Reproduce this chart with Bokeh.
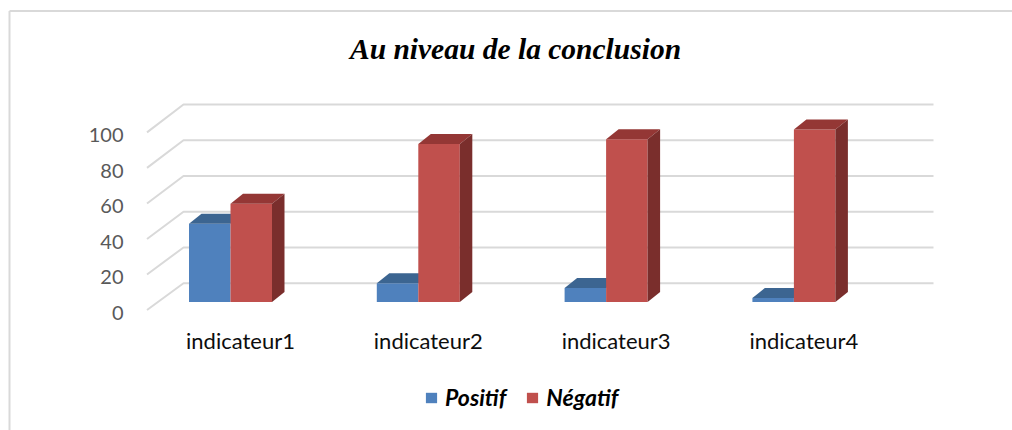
from bokeh.plotting import figure
from bokeh.models import Range1d, ColumnDataSource, Legend, LegendItem
from bokeh.core.properties import value
from bokeh.embed import file_html
from bokeh.resources import INLINE

# ---- data ----
categories = ["indicateur1", "indicateur2", "indicateur3", "indicateur4"]
positif = [44.3, 10.6, 7.9, 2.3]
negatif = [55.7, 89.4, 92.1, 97.7]
y_ticks = [0, 20, 40, 60, 80, 100]
series_names = ["Positif", "Négatif"]
title_text = "Au niveau de la conclusion"

# ---- layout helpers (canvas pixel -> data) ----
XS, X0P = 187.8, 230.0     # px per category, px of category 0
YS, Y0P = 1.766, 301.5     # px per unit, px of value 0 (front plane)
def X(px):
    return (px - X0P) / XS
def Y(py):
    return (Y0P - py) / YS

W, H = 1012, 430
p = figure(width=W, height=H, output_backend="svg", toolbar_location=None,
           x_range=Range1d(X(0), X(W)), y_range=Range1d(Y(H), Y(0)),
           min_border=0)
p.axis.visible = False
p.grid.visible = False
p.outline_line_color = None
p.background_fill_color = "white"

GRID = "#d9d9d9"
# outer chart border (left & top visible)
p.segment(x0=[X(9), X(9)], y0=[Y(10.5), Y(10.5)], x1=[X(1012), X(9)], y1=[Y(10.5), Y(430)],
          line_color=GRID, line_width=2)

# back wall gridlines + left wall diagonals
xs, ys = [], []
for g in y_ticks:
    yb = Y(282.7 - g * 1.787)
    yf = Y(309.5 - g * 1.776)
    xs.append([X(146.5), X(183), X(933)])
    ys.append([yf, yb, yb])
p.multi_line(xs=xs, ys=ys, line_color=GRID, line_width=2)

# y tick labels
p.text(x=[X(123)] * len(y_ticks), y=[Y(312.5 - g * 1.78) for g in y_ticks],
       text=[str(g) for g in y_ticks], text_align="right", text_baseline="middle",
       text_font=value("Lato"), text_font_size="20px", text_color="#595959")

# category labels
idx = list(range(len(categories)))
p.text(x=[i + 10 / XS for i in idx], y=[Y(340)] * len(idx), text=categories,
       text_align="center", text_baseline="middle",
       text_font=value("Lato"), text_font_size="22px", text_color="#0d0d0d")

# ---- bars (3D look) ----
w = 41.5 / XS
ddx = 12.5 / XS
ddy = 10 / YS

src_b = ColumnDataSource(dict(left=[i - w for i in idx], right=idx, top=positif, bottom=[0] * 4))
src_r = ColumnDataSource(dict(left=idx, right=[i + w for i in idx], top=negatif, bottom=[0] * 4))

rb = p.quad(source=src_b, left="left", right="right", top="top", bottom="bottom",
            fill_color="#4f81bd", line_color=None)
p.patches(xs=[[i - w, i - w + ddx, i + ddx, i] for i in idx],
          ys=[[v, v + ddy, v + ddy, v] for v in positif],
          fill_color="#3c6591", line_color=None)

rr = p.quad(source=src_r, left="left", right="right", top="top", bottom="bottom",
            fill_color="#c0504d", line_color=None)
p.patches(xs=[[i, i + ddx, i + w + ddx, i + w] for i in idx],
          ys=[[v, v + ddy, v + ddy, v] for v in negatif],
          fill_color="#943735", line_color=None)
p.patches(xs=[[i + w, i + w, i + w + ddx, i + w + ddx] for i in idx],
          ys=[[0, v, v + ddy, ddy] for v in negatif],
          fill_color="#7a2e2c", line_color=None)

# title
p.text(x=[X(515)], y=[Y(48)], text=[title_text], text_align="center",
       text_baseline="middle", text_font=value("Liberation Serif"),
       text_font_style="bold italic", text_font_size="29.5px", text_color="black")

# legend
legend = Legend(items=[LegendItem(label=series_names[0], renderers=[rb]),
                       LegendItem(label=series_names[1], renderers=[rr])],
                orientation="horizontal", location=(424, 19),
                glyph_width=14, glyph_height=13, label_standoff=7, spacing=19,
                padding=0, margin=0, border_line_color=None, background_fill_alpha=0,
                label_text_font="Lato", label_text_font_style="bold italic",
                label_text_font_size="23px", label_text_color="black", label_height=20)
p.add_layout(legend, "center")

open("out.html", "w").write(file_html(p, INLINE))
